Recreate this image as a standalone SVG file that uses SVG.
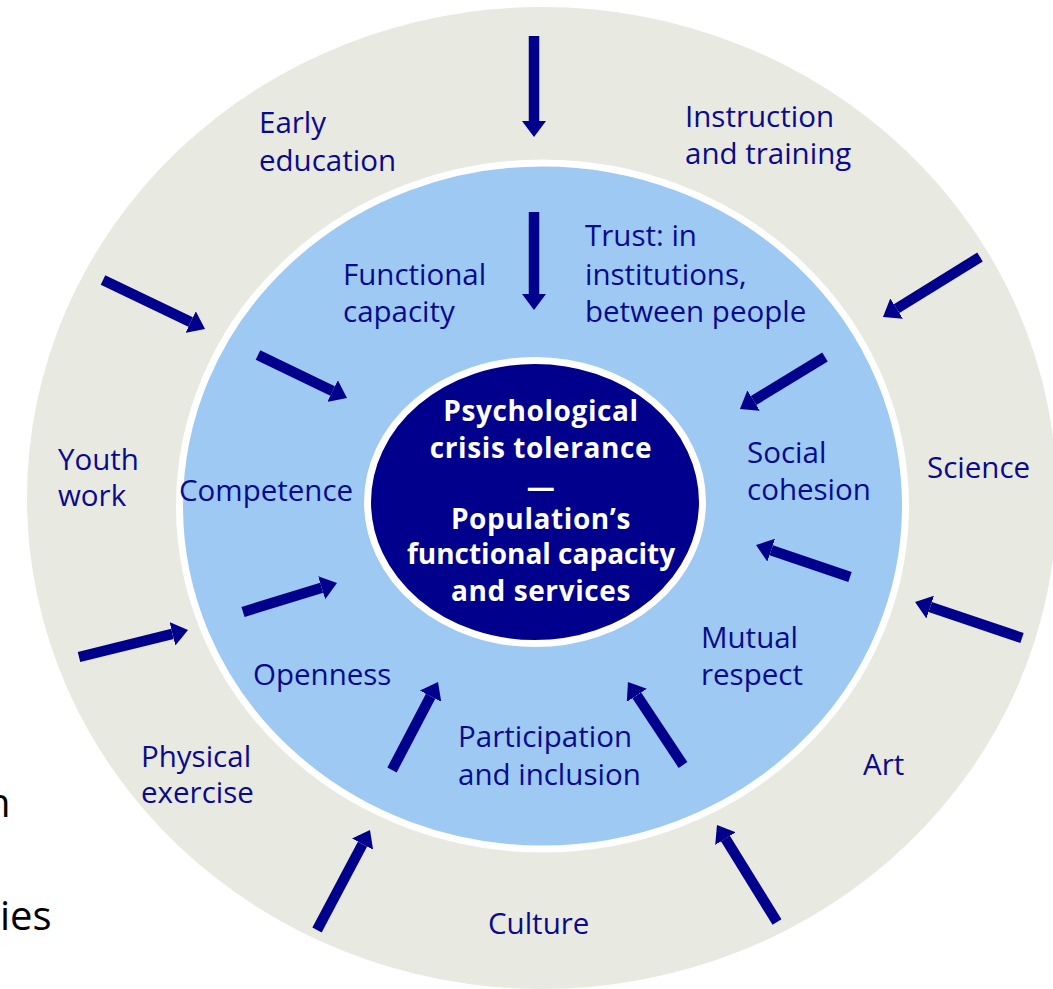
<svg xmlns="http://www.w3.org/2000/svg" width="1053" height="989" viewBox="0 0 1053 989">
<defs>
<marker id="ah" viewBox="0 -12 16 24" refX="0" refY="0" markerWidth="16" markerHeight="24" markerUnits="userSpaceOnUse" orient="auto">
<path d="M0,-12 L16,0 L0,12 z" fill="#00008C"/>
</marker>
<style>
.lbl{font-family:"Open Sans","Liberation Sans",sans-serif;font-size:29.5px;fill:#0A0A8E;}
.ctr{font-family:"Open Sans","Liberation Sans",sans-serif;font-size:28px;font-weight:bold;fill:#FFFFFF;text-anchor:middle;letter-spacing:0.6px;}
.tight{letter-spacing:0px;}
.bg{font-family:"Open Sans","Liberation Sans",sans-serif;font-size:40px;fill:#000000;}
.arr{stroke:#00008C;stroke-width:10.5;fill:none;marker-end:url(#ah);}
</style>
</defs>
<rect width="1053" height="989" fill="#FFFFFF"/>
<text class="bg" x="-14" y="817">n</text>
<text class="bg" x="0" y="930">ies</text>
<g id="outer-ring">
<ellipse cx="542" cy="498" rx="515" ry="491" fill="#E8E9E1"/>
<text class="lbl" x="259" y="133">Early</text>
<text class="lbl" x="259" y="171">education</text>
<text class="lbl" x="685" y="127">Instruction</text>
<text class="lbl" x="685" y="164">and training</text>
<text class="lbl" x="58" y="470">Youth</text>
<text class="lbl" x="58" y="506">work</text>
<text class="lbl" x="927" y="478">Science</text>
<text class="lbl" x="141" y="767">Physical</text>
<text class="lbl" x="141" y="803">exercise</text>
<text class="lbl" x="863" y="775">Art</text>
<text class="lbl" x="488" y="934">Culture</text>
</g>
<g id="inner-ring">
<ellipse cx="542.5" cy="506" rx="363" ry="343" fill="#9DC9F2" stroke="#FFFFFF" stroke-width="7"/>
<text class="lbl" x="343" y="285">Functional</text>
<text class="lbl" x="343" y="322">capacity</text>
<text class="lbl" x="585" y="246">Trust: in</text>
<text class="lbl" x="585" y="285">institutions,</text>
<text class="lbl" x="585" y="322">between people</text>
<text class="lbl" x="179" y="501">Competence</text>
<text class="lbl" x="747" y="463">Social</text>
<text class="lbl" x="747" y="500">cohesion</text>
<text class="lbl" x="701" y="648">Mutual</text>
<text class="lbl" x="701" y="685">respect</text>
<text class="lbl" x="253" y="685">Openness</text>
<text class="lbl" x="458" y="747">Participation</text>
<text class="lbl" x="458" y="785">and inclusion</text>
</g>
<g id="core">
<ellipse cx="535" cy="502" rx="167.5" ry="141.5" fill="#00008C" stroke="#FFFFFF" stroke-width="7"/>
<text class="ctr" x="541" y="421">Psychological</text>
<text class="ctr" x="541" y="458">crisis tolerance</text>
<text class="ctr" x="541" y="497">—</text>
<text class="ctr" x="541" y="529">Population’s</text>
<text class="ctr tight" x="541" y="564">functional capacity</text>
<text class="ctr" x="541" y="601">and services</text>
</g>
<g id="connectors">
<line class="arr" x1="534" y1="36" x2="534" y2="121"/>
<line class="arr" x1="103" y1="280" x2="190.6" y2="322.1"/>
<line class="arr" x1="980" y1="257" x2="896.6" y2="308.6"/>
<line class="arr" x1="1022" y1="638" x2="930.2" y2="607.1"/>
<line class="arr" x1="79" y1="657" x2="172.5" y2="633.8"/>
<line class="arr" x1="317" y1="930" x2="362.5" y2="844.1"/>
<line class="arr" x1="777" y1="922" x2="725.4" y2="838.6"/>
<line class="arr" x1="534" y1="212" x2="534" y2="294"/>
<line class="arr" x1="258" y1="355" x2="332.6" y2="391"/>
<line class="arr" x1="825" y1="357" x2="753.6" y2="400.6"/>
<line class="arr" x1="850" y1="577" x2="771.2" y2="550.2"/>
<line class="arr" x1="243" y1="612" x2="321.7" y2="587.7"/>
<line class="arr" x1="392" y1="770" x2="430.6" y2="696.2"/>
<line class="arr" x1="683" y1="765" x2="636.8" y2="695.3"/>
</g>
</svg>
